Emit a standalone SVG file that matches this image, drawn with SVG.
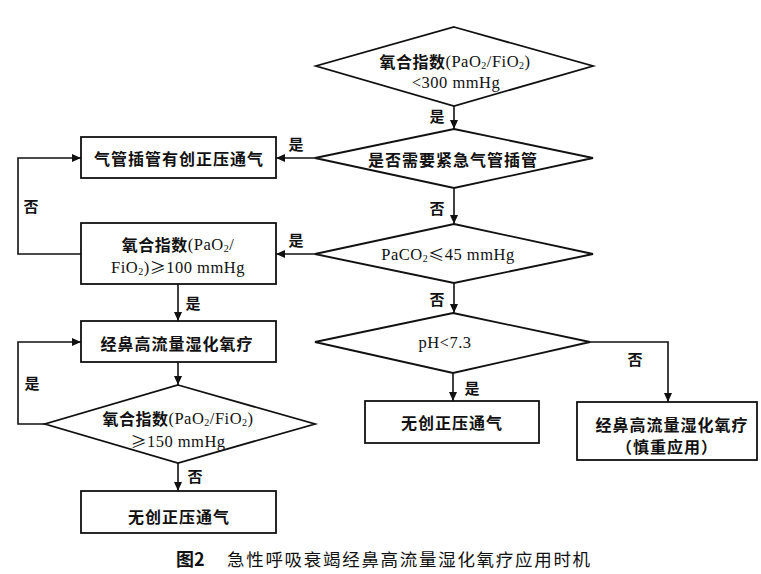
<svg xmlns="http://www.w3.org/2000/svg" width="761" height="574" viewBox="0 0 761 574">
<defs>
<style>
.shape{fill:#fff;stroke:#111;stroke-width:1.8}
.conn{fill:none;stroke:#111;stroke-width:1.6}
.cjk{font-family:"Noto Sans CJK SC",sans-serif;font-weight:bold;font-size:16px;fill:#111;letter-spacing:0.5px}
.lat{font-family:"Liberation Serif","Noto Sans CJK SC",serif;font-weight:normal;font-size:16.5px;letter-spacing:0.5px}
.sym{font-family:"Noto Sans CJK SC",sans-serif;font-weight:normal;font-size:16px}
.lbl{font-family:"Noto Sans CJK SC",sans-serif;font-weight:bold;font-size:15px;fill:#111;text-anchor:middle;dominant-baseline:central}
.t{text-anchor:middle;dominant-baseline:central}
.sub{font-size:10px}
</style>
<marker id="arr" markerUnits="userSpaceOnUse" markerWidth="9" markerHeight="8" refX="9" refY="4" orient="auto">
<path d="M0,0 L9,4 L0,8 z" fill="#111"/>
</marker>
</defs>
<rect width="761" height="574" fill="#fff"/>

<g id="connectors">
<path class="conn" d="M454,106 L454,129" marker-end="url(#arr)"/>
<path class="conn" d="M454,188 L454,224" marker-end="url(#arr)"/>
<path class="conn" d="M454,283 L454,313" marker-end="url(#arr)"/>
<path class="conn" d="M315,158 L276,158" marker-end="url(#arr)"/>
<path class="conn" d="M315,254 L276,254" marker-end="url(#arr)"/>
<path class="conn" d="M81,254 L18,254 L18,158 L81,158" marker-end="url(#arr)"/>
<path class="conn" d="M178,284 L178,321" marker-end="url(#arr)"/>
<path class="conn" d="M178,362 L178,385" marker-end="url(#arr)"/>
<path class="conn" d="M45,424 L18,424 L18,342 L81,342" marker-end="url(#arr)"/>
<path class="conn" d="M178,463 L178,491" marker-end="url(#arr)"/>
<path class="conn" d="M453,373 L453,401" marker-end="url(#arr)"/>
<path class="conn" d="M590,342 L668,342 L668,402" marker-end="url(#arr)"/>
<text class="lbl" x="437" y="115">是</text>
<text class="lbl" x="437" y="207">否</text>
<text class="lbl" x="437" y="298">否</text>
<text class="lbl" x="296" y="143">是</text>
<text class="lbl" x="296" y="239">是</text>
<text class="lbl" x="31" y="205">否</text>
<text class="lbl" x="193" y="302">是</text>
<text class="lbl" x="32" y="382">是</text>
<text class="lbl" x="195" y="475">否</text>
<text class="lbl" x="472" y="387">是</text>
<text class="lbl" x="635" y="358">否</text>
</g>

<g id="d1">
<polygon class="shape" points="454,27 593,66 454,106 316,66"/>
<text class="cjk t" x="455" y="61">氧合指数<tspan class="lat">(PaO<tspan class="sub" dy="4">2</tspan><tspan dy="-4">/FiO</tspan><tspan class="sub" dy="4">2</tspan><tspan dy="-4">)</tspan></tspan></text>
<text class="cjk t" x="456" y="82"><tspan class="lat">&lt;300 mmHg</tspan></text>
</g>

<g id="d2">
<polygon class="shape" points="454,129 593,158 454,188 315,158"/>
<text class="cjk t" x="453" y="159" style="letter-spacing:1px">是否需要紧急气管插管</text>
</g>

<g id="d3">
<polygon class="shape" points="454,224 593,254 454,283 315,254"/>
<text class="cjk t" x="448" y="254"><tspan class="lat">PaCO<tspan class="sub" dy="4">2</tspan></tspan><tspan class="sym" dy="-4">≤</tspan><tspan class="lat">45 mmHg</tspan></text>
</g>

<g id="d4">
<polygon class="shape" points="453,313 590,342 453,373 315,342"/>
<text class="cjk t" x="445" y="342"><tspan class="lat">pH&lt;7.3</tspan></text>
</g>

<g id="b1">
<rect class="shape" x="81" y="137" width="195" height="41"/>
<text class="cjk t" x="179" y="158" style="letter-spacing:1px">气管插管有创正压通气</text>
</g>

<g id="b2">
<rect class="shape" x="81" y="223" width="195" height="61"/>
<text class="cjk t" x="178" y="244">氧合指数<tspan class="lat">(PaO<tspan class="sub" dy="4">2</tspan><tspan dy="-4">/</tspan></tspan></text>
<text class="cjk t" x="178" y="267"><tspan class="lat">FiO<tspan class="sub" dy="4">2</tspan><tspan dy="-4">)</tspan></tspan><tspan class="sym">≥</tspan><tspan class="lat">100 mmHg</tspan></text>
</g>

<g id="b3">
<rect class="shape" x="81" y="321" width="195" height="41"/>
<text class="cjk t" x="177" y="343" style="letter-spacing:1px">经鼻高流量湿化氧疗</text>
</g>

<g id="d5">
<polygon class="shape" points="178,385 315,424 178,463 45,424"/>
<text class="cjk t" x="178" y="418">氧合指数<tspan class="lat">(PaO<tspan class="sub" dy="4">2</tspan><tspan dy="-4">/FiO</tspan><tspan class="sub" dy="4">2</tspan><tspan dy="-4">)</tspan></tspan></text>
<text class="cjk t" x="178" y="441"><tspan class="sym">≥</tspan><tspan class="lat">150 mmHg</tspan></text>
</g>

<g id="b4">
<rect class="shape" x="81" y="491" width="195" height="42"/>
<text class="cjk t" x="179" y="516" style="letter-spacing:1px">无创正压通气</text>
</g>

<g id="b5">
<rect class="shape" x="365" y="401" width="174" height="42"/>
<text class="cjk t" x="452" y="422" style="letter-spacing:1px">无创正压通气</text>
</g>

<g id="b6">
<rect class="shape" x="577" y="402" width="180" height="58"/>
<text class="cjk t" x="672" y="424" style="letter-spacing:1px">经鼻高流量湿化氧疗</text>
<text class="cjk t" x="667" y="446" style="letter-spacing:1px">（慎重应用）</text>
</g>

<g id="caption">
<text x="176" y="558" style="font-family:'Noto Sans CJK SC',sans-serif;font-weight:bold;font-size:18px;fill:#111;dominant-baseline:central">图2</text>
<text x="227" y="558" style="font-family:'Noto Sans CJK SC',sans-serif;font-weight:normal;font-size:17.5px;fill:#111;letter-spacing:1.7px;dominant-baseline:central">急性呼吸衰竭经鼻高流量湿化氧疗应用时机</text>
</g>
</svg>
